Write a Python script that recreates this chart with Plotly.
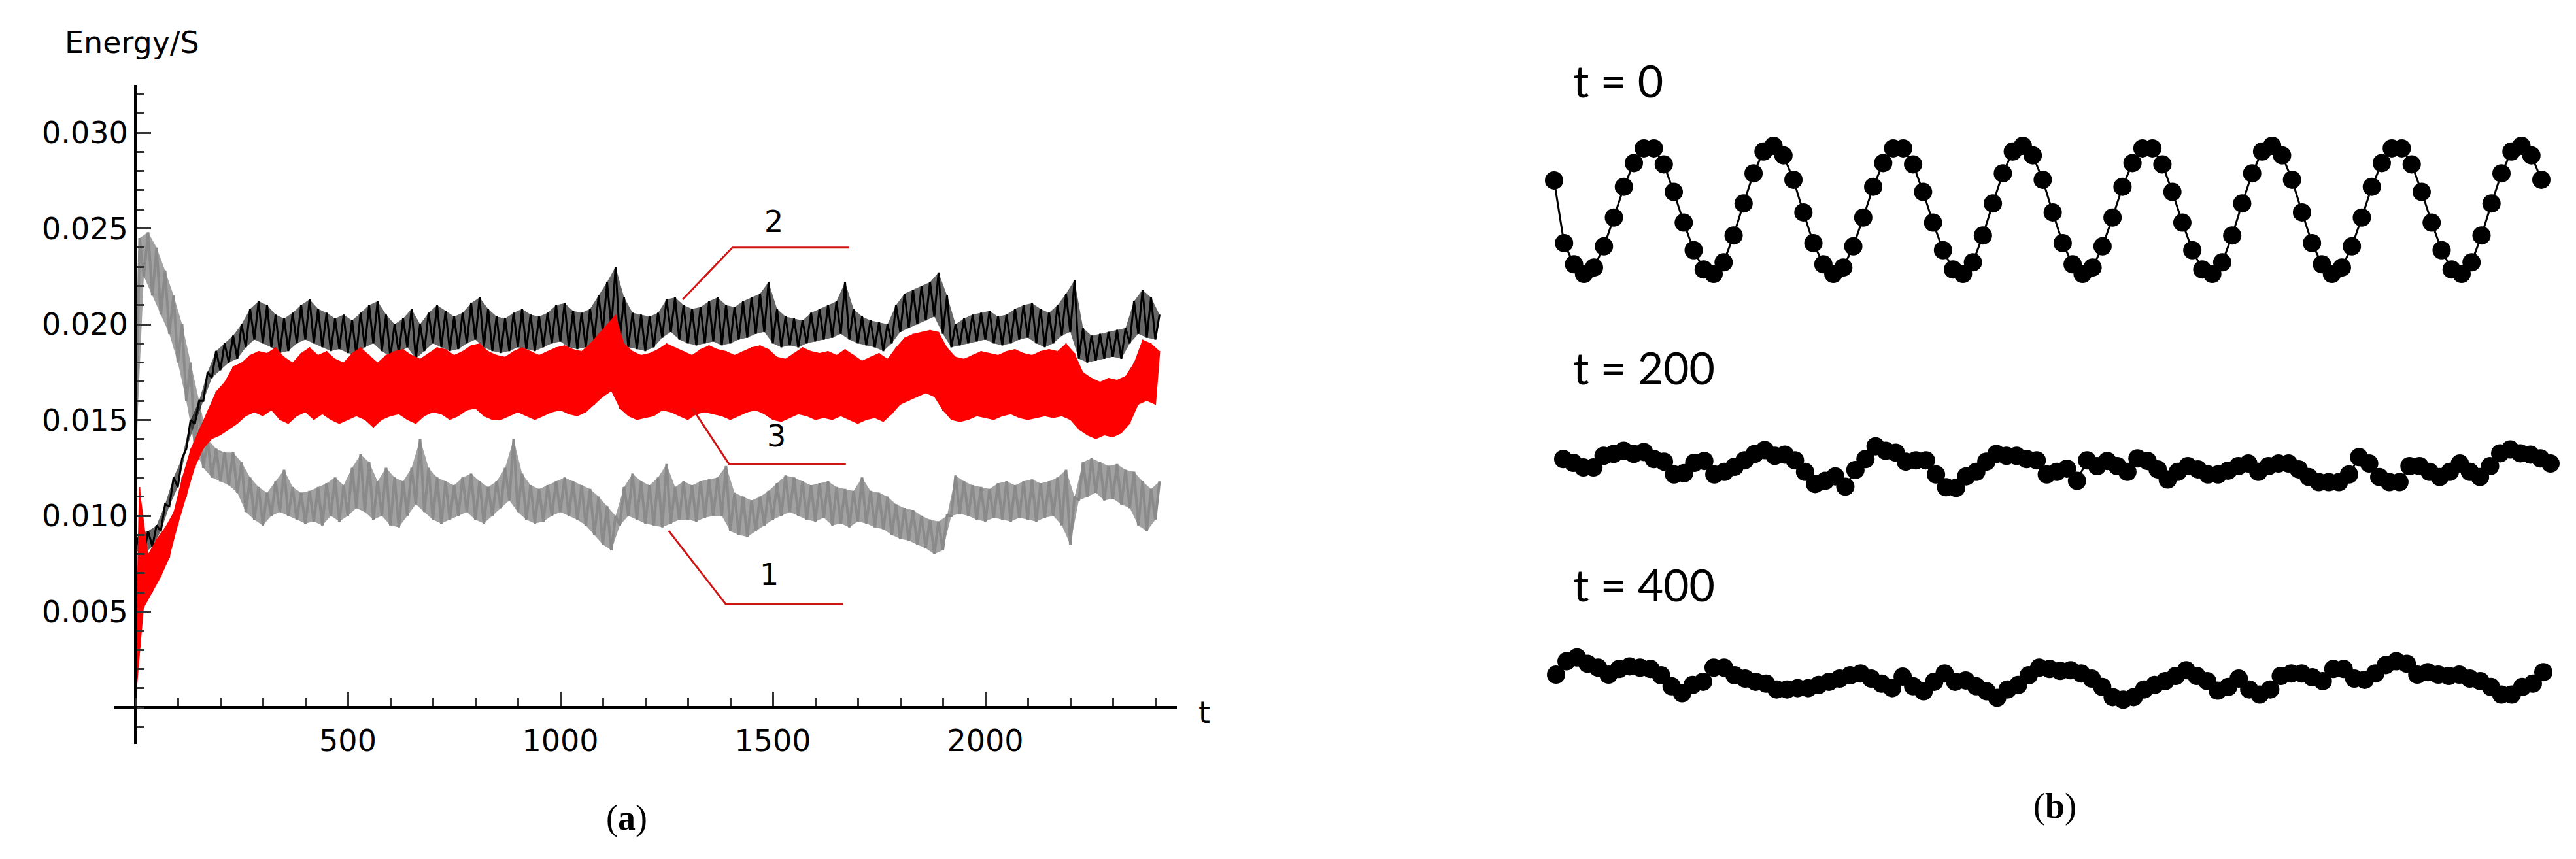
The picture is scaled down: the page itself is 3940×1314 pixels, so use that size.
import plotly.graph_objects as go

# ---------------- Panel (a): Energy/S vs t (per-20 time-unit low/high envelope)
T_STEP = 20
gray_lo = [0.0125,0.0225,0.0215,0.0205,0.0195,0.0180,0.0160,0.0135,0.0125,0.0120,
           0.0118,0.0116,0.0112,0.0102,0.0098,0.0095,0.0100,0.0102,0.0100,0.0098,
           0.0096,0.0097,0.0095,0.0100,0.0097,0.0100,0.0104,0.0102,0.0098,0.0100,
           0.0095,0.0094,0.0100,0.0106,0.0102,0.0098,0.0096,0.0098,0.0100,0.0102,
           0.0098,0.0096,0.0100,0.0104,0.0108,0.0102,0.0098,0.0096,0.0097,0.0100,
           0.0102,0.0100,0.0098,0.0095,0.0090,0.0085,0.0082,0.0095,0.0100,0.0098,
           0.0096,0.0095,0.0094,0.0096,0.0098,0.0098,0.0097,0.0099,0.0100,0.0100,
           0.0092,0.0090,0.0089,0.0092,0.0095,0.0098,0.0100,0.0102,0.0100,0.0098,
           0.0097,0.0099,0.0095,0.0096,0.0094,0.0097,0.0096,0.0094,0.0093,0.0090,
           0.0088,0.0087,0.0085,0.0083,0.0080,0.0082,0.0100,0.0101,0.0100,0.0098,
           0.0097,0.0099,0.0098,0.0097,0.0099,0.0098,0.0097,0.0099,0.0100,0.0095,
           0.0085,0.0108,0.0110,0.0112,0.0108,0.0109,0.0106,0.0104,0.0095,0.0092,
           0.0098]
gray_hi = [0.0245,0.0248,0.0240,0.0228,0.0215,0.0200,0.0180,0.0160,0.0140,0.0135,
           0.0133,0.0133,0.0128,0.0120,0.0115,0.0112,0.0118,0.0124,0.0115,0.0112,
           0.0113,0.0115,0.0117,0.0120,0.0116,0.0125,0.0132,0.0128,0.0118,0.0125,
           0.0120,0.0118,0.0125,0.0140,0.0125,0.0120,0.0118,0.0116,0.0120,0.0122,
           0.0118,0.0115,0.0118,0.0125,0.0140,0.0122,0.0116,0.0114,0.0116,0.0118,
           0.0120,0.0118,0.0116,0.0114,0.0110,0.0105,0.0100,0.0115,0.0122,0.0118,
           0.0116,0.0120,0.0127,0.0115,0.0118,0.0116,0.0118,0.0119,0.0120,0.0126,
           0.0112,0.0110,0.0108,0.0110,0.0113,0.0117,0.0121,0.0120,0.0118,0.0116,
           0.0117,0.0118,0.0115,0.0114,0.0113,0.0120,0.0113,0.0112,0.0110,0.0106,
           0.0104,0.0103,0.0100,0.0098,0.0097,0.0100,0.0121,0.0118,0.0116,0.0115,
           0.0114,0.0117,0.0118,0.0116,0.0118,0.0119,0.0117,0.0118,0.0120,0.0124,
           0.0110,0.0128,0.0130,0.0128,0.0126,0.0127,0.0124,0.0123,0.0118,0.0114,
           0.0118]
black_lo = [0.0082,0.0080,0.0084,0.0092,0.0105,0.0115,0.0135,0.0148,0.0160,0.0172,
            0.0176,0.0180,0.0182,0.0188,0.0192,0.0190,0.0188,0.0185,0.0186,0.0190,
            0.0192,0.0190,0.0188,0.0186,0.0187,0.0185,0.0184,0.0188,0.0190,0.0186,
            0.0183,0.0185,0.0188,0.0182,0.0186,0.0190,0.0188,0.0186,0.0187,0.0190,
            0.0192,0.0188,0.0186,0.0185,0.0186,0.0188,0.0187,0.0186,0.0188,0.0190,
            0.0191,0.0188,0.0187,0.0188,0.0192,0.0196,0.0198,0.0192,0.0188,0.0187,
            0.0186,0.0188,0.0193,0.0196,0.0192,0.0190,0.0189,0.0190,0.0191,0.0189,
            0.0190,0.0192,0.0193,0.0195,0.0196,0.0190,0.0188,0.0189,0.0188,0.0190,
            0.0191,0.0192,0.0193,0.0195,0.0192,0.0190,0.0189,0.0188,0.0186,0.0190,
            0.0196,0.0198,0.0200,0.0202,0.0204,0.0195,0.0188,0.0189,0.0190,0.0191,
            0.0192,0.0190,0.0189,0.0190,0.0192,0.0193,0.0190,0.0188,0.0190,0.0194,
            0.0196,0.0182,0.0180,0.0181,0.0182,0.0183,0.0182,0.0190,0.0195,0.0193,
            0.0192]
black_hi = [0.0091,0.0092,0.0095,0.0106,0.0120,0.0130,0.0150,0.0160,0.0175,0.0186,
            0.0190,0.0194,0.0200,0.0208,0.0212,0.0210,0.0205,0.0203,0.0206,0.0210,
            0.0213,0.0208,0.0206,0.0203,0.0205,0.0202,0.0206,0.0210,0.0212,0.0205,
            0.0200,0.0203,0.0208,0.0200,0.0206,0.0210,0.0207,0.0204,0.0206,0.0211,
            0.0214,0.0208,0.0204,0.0203,0.0206,0.0208,0.0205,0.0204,0.0206,0.0210,
            0.0211,0.0207,0.0206,0.0208,0.0215,0.0222,0.0230,0.0214,0.0206,0.0205,
            0.0204,0.0206,0.0213,0.0214,0.0210,0.0208,0.0209,0.0212,0.0214,0.0210,
            0.0209,0.0212,0.0214,0.0216,0.0222,0.0208,0.0204,0.0203,0.0202,0.0206,
            0.0208,0.0210,0.0212,0.0222,0.0208,0.0204,0.0202,0.0201,0.0200,0.0210,
            0.0216,0.0218,0.0220,0.0222,0.0227,0.0215,0.0200,0.0203,0.0205,0.0206,
            0.0207,0.0204,0.0205,0.0208,0.0210,0.0211,0.0208,0.0206,0.0210,0.0216,
            0.0223,0.0198,0.0194,0.0195,0.0196,0.0197,0.0198,0.0212,0.0218,0.0214,
            0.0205]
red_lo = [0.0000,0.0052,0.0060,0.0068,0.0078,0.0095,0.0110,0.0125,0.0135,0.0140,
          0.0142,0.0145,0.0148,0.0152,0.0154,0.0152,0.0155,0.0150,0.0148,0.0152,
          0.0154,0.0150,0.0153,0.0150,0.0148,0.0150,0.0152,0.0150,0.0146,0.0150,
          0.0152,0.0153,0.0150,0.0148,0.0152,0.0154,0.0153,0.0150,0.0152,0.0155,
          0.0156,0.0152,0.0150,0.0150,0.0152,0.0154,0.0152,0.0150,0.0152,0.0154,
          0.0155,0.0153,0.0152,0.0154,0.0158,0.0162,0.0165,0.0156,0.0152,0.0150,
          0.0151,0.0152,0.0155,0.0154,0.0152,0.0150,0.0153,0.0154,0.0153,0.0152,
          0.0150,0.0152,0.0154,0.0155,0.0153,0.0150,0.0149,0.0151,0.0153,0.0152,
          0.0150,0.0151,0.0150,0.0152,0.0150,0.0148,0.0150,0.0151,0.0149,0.0153,
          0.0158,0.0160,0.0162,0.0164,0.0162,0.0155,0.0150,0.0149,0.0150,0.0152,
          0.0151,0.0150,0.0152,0.0153,0.0151,0.0150,0.0151,0.0152,0.0151,0.0152,
          0.0150,0.0145,0.0142,0.0140,0.0142,0.0141,0.0143,0.0148,0.0158,0.0160,
          0.0158]
red_hi = [0.0115,0.0080,0.0088,0.0094,0.0102,0.0120,0.0135,0.0145,0.0155,0.0165,
          0.0170,0.0178,0.0180,0.0184,0.0186,0.0185,0.0188,0.0183,0.0180,0.0185,
          0.0188,0.0184,0.0186,0.0182,0.0180,0.0185,0.0188,0.0184,0.0180,0.0184,
          0.0186,0.0187,0.0184,0.0182,0.0185,0.0188,0.0187,0.0184,0.0186,0.0189,
          0.0190,0.0186,0.0184,0.0183,0.0186,0.0188,0.0186,0.0184,0.0186,0.0188,
          0.0189,0.0187,0.0186,0.0190,0.0195,0.0200,0.0205,0.0190,0.0186,0.0184,
          0.0185,0.0187,0.0190,0.0188,0.0186,0.0184,0.0187,0.0189,0.0187,0.0186,
          0.0184,0.0186,0.0188,0.0189,0.0187,0.0183,0.0182,0.0185,0.0188,0.0186,
          0.0185,0.0186,0.0184,0.0187,0.0184,0.0181,0.0183,0.0185,0.0182,0.0188,
          0.0193,0.0195,0.0196,0.0197,0.0196,0.0188,0.0183,0.0182,0.0184,0.0186,
          0.0185,0.0184,0.0186,0.0187,0.0185,0.0184,0.0186,0.0187,0.0186,0.0190,
          0.0185,0.0175,0.0172,0.0170,0.0172,0.0171,0.0173,0.0180,0.0192,0.0190,
          0.0186]

y_tickvals = [0.005, 0.010, 0.015, 0.020, 0.025, 0.030]
y_ticktext = ["0.005", "0.010", "0.015", "0.020", "0.025", "0.030"]
x_tickvals = [500, 1000, 1500, 2000]
x_ticktext = ["500", "1000", "1500", "2000"]

# callout labels: (label, text anchor t, text anchor value, leader path t's, leader path values)
callouts = [
    ("2", 1503, 0.02536, [1288, 1405, 1680], [0.0213, 0.0240, 0.0240]),
    ("3", 1508, 0.01416, [1311, 1397, 1672], [0.0156, 0.0127, 0.0127]),
    ("1", 1491, 0.00693, [1255, 1389, 1665], [0.00922, 0.0054, 0.0054]),
]

# ---------------- Panel (b): chain displacements (units: t=0 amplitude = 1)
chain_t0 = [0.46,
    -0.52,-0.85,-1.00,-0.90,-0.57,-0.12,0.36,0.73,0.96,0.96,0.71,0.28,-0.20,-0.63,-0.93,-1.00,-0.82,-0.40,0.10,0.57,0.91,1.00,0.85,0.47,-0.04,
    -0.52,-0.85,-1.00,-0.90,-0.57,-0.12,0.36,0.73,0.96,0.96,0.71,0.28,-0.20,-0.63,-0.93,-1.00,-0.82,-0.40,0.10,0.57,0.91,1.00,0.85,0.47,-0.04,
    -0.52,-0.85,-1.00,-0.90,-0.57,-0.12,0.36,0.73,0.96,0.96,0.71,0.28,-0.20,-0.63,-0.93,-1.00,-0.82,-0.40,0.10,0.57,0.91,1.00,0.85,0.47,-0.04,
    -0.52,-0.85,-1.00,-0.90,-0.57,-0.12,0.36,0.73,0.96,0.96,0.71,0.28,-0.20,-0.63,-0.93,-1.00,-0.82,-0.40,0.10,0.57,0.91,1.00,0.85,0.47]
chain_t200 = [0.12,0.06,-0.01,-0.01,0.17,0.20,0.25,0.20,0.23,0.12,0.08,-0.12,-0.10,0.06,0.09,-0.12,-0.08,0.0,0.10,0.20,
    0.26,0.17,0.19,0.10,-0.08,-0.27,-0.22,-0.15,-0.31,-0.05,0.12,0.32,0.25,0.22,0.08,0.10,0.10,-0.12,-0.32,-0.33,
    -0.15,-0.08,0.08,0.20,0.17,0.17,0.12,0.10,-0.12,-0.08,-0.03,-0.22,0.10,
    0.01,0.09,0.01,-0.08,0.13,0.09,-0.04,-0.20,-0.08,0.01,-0.04,-0.12,-0.12,-0.06,0.01,0.05,-0.08,0.01,0.05,0.05,
    -0.04,-0.16,-0.24,-0.24,-0.24,-0.12,0.15,0.05,-0.16,-0.24,-0.24,0.01,0.01,-0.08,-0.16,-0.08,0.05,-0.08,-0.16,
    0.01,0.21,0.27,0.21,0.19,0.13,0.05]
chain_t400 = [0.06,0.27,0.33,0.23,0.17,0.06,0.15,0.19,0.17,0.15,0.05,-0.12,-0.23,-0.10,-0.05,0.17,0.17,0.05,0.0,-0.05,
    -0.08,-0.17,-0.17,-0.15,-0.15,-0.10,-0.05,0.0,0.05,0.08,0.0,-0.08,-0.15,0.03,-0.12,-0.20,-0.05,0.08,-0.05,-0.03,
    -0.12,-0.20,-0.30,-0.17,-0.10,0.05,0.17,0.15,0.12,
    0.13,0.08,0.0,-0.13,-0.29,-0.33,-0.29,-0.17,-0.10,-0.04,0.04,0.13,0.04,-0.04,-0.19,-0.13,0.0,-0.17,-0.25,-0.17,
    0.04,0.08,0.08,0.02,-0.04,0.15,0.15,0.0,-0.02,0.08,0.21,0.27,0.23,0.06,0.10,0.06,0.04,0.06,0.0,-0.04,
    -0.13,-0.25,-0.25,-0.13,-0.08,0.10]
chain_labels = ["t = 0", "t = 200", "t = 400"]

# ---------------- figure geometry (pixels of the 3940 x 1314 page)
W, H = 3940, 1314
def px_x(p): return p / W
def px_y(p): return 1 - p / H

fig = go.Figure()

def band(lo, hi):
    t_lo = [i * T_STEP for i in range(len(lo))]
    t_hi = [i * T_STEP + T_STEP / 2 for i in range(len(hi))]
    return t_hi + t_lo[::-1], list(hi) + list(lo)[::-1]

def zigzag(lo, hi):
    xs, ys = [], []
    for i, (a, b) in enumerate(zip(lo, hi)):
        t = i * T_STEP
        xs += [t, t + T_STEP / 2]
        ys += [a, b]
    return xs, ys

# (lo, hi, stroke colour, band fill colour, stroke width)
series = [(gray_lo, gray_hi, "#8a8a8a", "rgba(138,138,138,0.8)", 4),
          (black_lo, black_hi, "#000000", "rgba(0,0,0,0.6)", 3),
          (red_lo, red_hi, "#ff0000", "#ff0000", 2)]
for lo, hi, col, fcol, w in series:
    bx, by = band(lo, hi)
    fig.add_trace(go.Scatter(x=bx, y=by, mode="lines", fill="toself", fillcolor=fcol,
                             line=dict(width=0), xaxis="x", yaxis="y",
                             showlegend=False, hoverinfo="skip"))
    zx, zy = zigzag(lo, hi)
    fig.add_trace(go.Scatter(x=zx, y=zy, mode="lines", line=dict(color=col, width=w),
                             xaxis="x", yaxis="y", showlegend=False, hoverinfo="skip"))

for lab, tx, ty, lt, lv in callouts:
    fig.add_trace(go.Scatter(x=lt, y=lv, mode="lines", line=dict(color="#d01515", width=3),
                             xaxis="x", yaxis="y", showlegend=False, hoverinfo="skip"))
    fig.add_annotation(x=tx, y=ty, xref="x", yref="y", text=lab, showarrow=False,
                       xanchor="center", yanchor="middle",
                       font=dict(family="DejaVu Sans", size=46, color="black"))

# chains
chains = [chain_t0, chain_t200, chain_t400]
chain_xdom = [(2369, 3879), (2383, 3893), (2372, 3882)]
chain_center = [313, 706, 1030]
unit_px = 98
chain_label_y = [114, 553, 885]
for k, ch in enumerate(chains):
    xa = "x%d" % (k + 2)
    ya = "y%d" % (k + 2)
    fig.add_trace(go.Scatter(x=list(range(len(ch))), y=ch, mode="lines+markers",
                             line=dict(color="black", width=3),
                             marker=dict(color="black", size=28),
                             xaxis=xa, yaxis=ya, showlegend=False, hoverinfo="skip",
                             cliponaxis=False))
    c = chain_center[k]
    fig.update_layout(**{
        "xaxis%d" % (k + 2): dict(domain=[px_x(chain_xdom[k][0]), px_x(chain_xdom[k][1])],
                                  range=[0, len(ch) - 1], visible=False, anchor=ya),
        "yaxis%d" % (k + 2): dict(domain=[px_y(c + 1.5 * unit_px), px_y(c - 1.5 * unit_px)],
                                  range=[-1.5, 1.5], visible=False, anchor=xa),
    })
    fig.add_annotation(x=px_x(2396), y=px_y(chain_label_y[k]), xref="paper", yref="paper",
                       text=chain_labels[k], showarrow=False, xanchor="left", yanchor="middle",
                       font=dict(family="Lato", size=68, color="black"))

axis_font = dict(family="DejaVu Sans", size=46, color="black")
fig.update_layout(
    width=W, height=H, margin=dict(l=0, r=0, t=0, b=0),
    paper_bgcolor="white", plot_bgcolor="rgba(0,0,0,0)",
    xaxis=dict(domain=[px_x(166.5), px_x(1791.5)], range=[-50, 2450],
               anchor="free", position=px_y(1074),
               showgrid=False, zeroline=False, showline=True, linecolor="black", linewidth=4,
               ticks="inside", ticklen=22, tickwidth=3, tickcolor="#333333",
               tickvals=x_tickvals, ticktext=x_ticktext, tickfont=axis_font,
               ticklabelstandoff=10,
               minor=dict(ticks="inside", dtick=100, tick0=0, ticklen=12, tickwidth=3,
                          tickcolor="#333333", showgrid=False)),
    yaxis=dict(domain=[px_y(1129.7), px_y(121.75)], range=[-0.0019, 0.0325],
               anchor="free", position=px_x(199),
               showgrid=False, zeroline=False, showline=True, linecolor="black", linewidth=4,
               ticks="inside", ticklen=22, tickwidth=3, tickcolor="#333333",
               tickvals=y_tickvals, ticktext=y_ticktext, tickfont=axis_font,
               ticklabelstandoff=0,
               minor=dict(ticks="inside", dtick=0.001, tick0=0, ticklen=12, tickwidth=3,
                          tickcolor="#333333", showgrid=False)),
)

fig.add_annotation(x=px_x(194), y=px_y(57), xref="paper", yref="paper", text="Energy/S",
                   showarrow=False, xanchor="center", yanchor="middle", font=axis_font)
fig.add_annotation(x=px_x(1834), y=px_y(1082), xref="paper", yref="paper", text="t",
                   showarrow=False, xanchor="center", yanchor="middle", font=axis_font)
fig.add_annotation(x=px_x(950), y=px_y(1243), xref="paper", yref="paper", text="(<b>a</b>)",
                   showarrow=False, xanchor="center", yanchor="middle",
                   font=dict(family="Liberation Serif", size=54, color="black"))
fig.add_annotation(x=px_x(3135), y=px_y(1225), xref="paper", yref="paper", text="(<b>b</b>)",
                   showarrow=False, xanchor="center", yanchor="middle",
                   font=dict(family="Liberation Serif", size=54, color="black"))

fig.write_html("out.html")
